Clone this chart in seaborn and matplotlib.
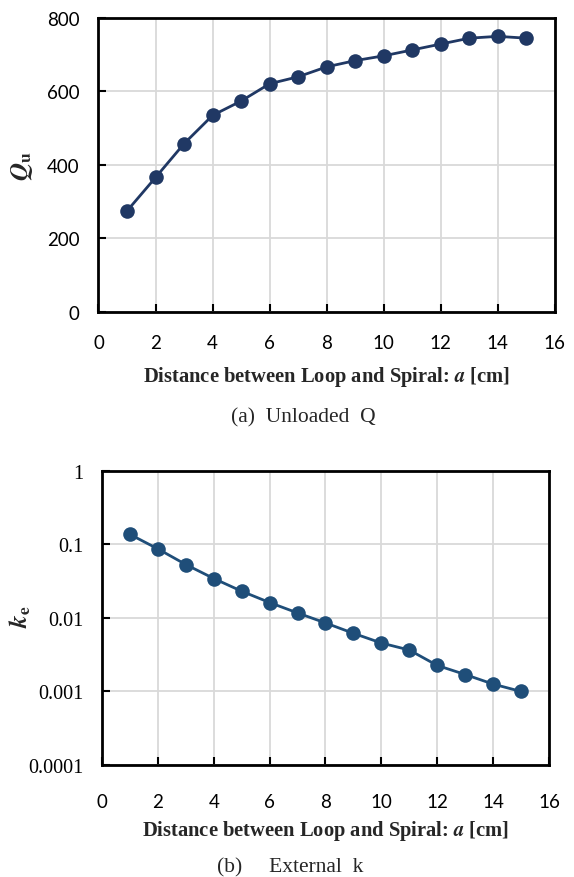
import matplotlib
matplotlib.use("Agg")
import matplotlib.pyplot as plt
import matplotlib.ticker as mticker
import seaborn as sns
import numpy as np

sns.set_style("white")
plt.rcParams['font.family'] = ['Lato', 'DejaVu Sans']
plt.rcParams['mathtext.fontset'] = 'stix'

distance = [1, 2, 3, 4, 5, 6, 7, 8, 9, 10, 11, 12, 13, 14, 15]
q_unloaded = [275, 366, 458, 535, 574, 621, 640, 667, 684, 697, 713, 729, 745, 750, 745]
k_external = [0.137, 0.087, 0.0533, 0.0344, 0.0231, 0.0162, 0.0117, 0.00855,
              0.00618, 0.00456, 0.00366, 0.00226, 0.0017, 0.00126, 0.00100]
x_ticks = [0, 2, 4, 6, 8, 10, 12, 14, 16]
q_ticks = [0, 200, 400, 600, 800]
k_ticks = [0.0001, 0.001, 0.01, 0.1, 1]
k_tick_labels = ["0.0001", "0.001", "0.01", "0.1", "1"]

fig = plt.figure(figsize=(5.74, 8.78), dpi=100)
ax1 = fig.add_axes([0.1716, 0.6435, 0.795, 0.3349])
ax2 = fig.add_axes([0.1777, 0.1276, 0.7787, 0.3349])

serif = 'Liberation Serif'
grid_col = '#D9D9D9'

def style(ax, xpad, labelpad):
    for s in ax.spines.values():
        s.set_color('black')
        s.set_linewidth(2.0)
    ax.grid(True, color=grid_col, linewidth=1.3)
    ax.set_axisbelow(True)
    ax.set_xlim(0, 16)
    ax.set_xticks(x_ticks)
    ax.tick_params(axis='both', which='major', direction='in', length=6, width=1.5,
                   labelsize=13.5, colors='black')
    ax.tick_params(axis='x', which='major', pad=xpad)
    ax.tick_params(axis='y', which='major', pad=13.5)
    ax.tick_params(axis='both', which='minor', direction='in', length=4, width=1.2)
    ax.tick_params(top=False, right=False, bottom=True, left=True)
    ax.tick_params(axis='x', which='minor', bottom=False)
    ax.set_xlabel("Distance between Loop and Spiral: $\\mathbfit{a}$ [cm]",
                  fontfamily=serif, fontweight='bold', fontsize=14.8, labelpad=labelpad)

sns.lineplot(x=distance, y=q_unloaded, ax=ax1, color='#203864', marker='o',
             markersize=10.5, markeredgewidth=0, linewidth=2.0)
style(ax1, 16, 9)
ax1.set_ylim(0, 800)
ax1.set_yticks(q_ticks)
ax1.yaxis.set_minor_locator(mticker.MultipleLocator(100))
ax1.set_ylabel("$\\mathbfit{Q}_\\mathbf{u}$", fontsize=18)
ax1.yaxis.set_label_coords(-0.139, 0.5)

sns.lineplot(x=distance, y=k_external, ax=ax2, color='#1F4E79', marker='o',
             markersize=10.5, markeredgewidth=0, linewidth=2.0)
ax2.set_yscale('log')
style(ax2, 20, 6)
ax2.set_ylim(0.0001, 1)
ax2.yaxis.set_major_locator(mticker.FixedLocator(k_ticks))
ax2.yaxis.set_major_formatter(mticker.FixedFormatter(k_tick_labels))
ax2.yaxis.set_minor_locator(mticker.LogLocator(base=10, subs=np.arange(2, 10)))
ax2.yaxis.set_minor_formatter(mticker.NullFormatter())
ax2.tick_params(axis='y', which='major', pad=13.5, labelfontfamily=serif, labelsize=14.5)
ax2.set_ylabel("$\\mathbfit{k}_\\mathbf{e}$", fontsize=18)
ax2.yaxis.set_label_coords(-0.155, 0.507)

fig.text(0.528, 1 - 418 / 878, "(a)  Unloaded  Q", ha='center', va='center',
         fontfamily=serif, fontsize=15.5)
fig.text(0.505, 1 - 868 / 878, "(b)     External  k", ha='center', va='center',
         fontfamily=serif, fontsize=15.5)

fig.savefig("out.png", dpi=100)
